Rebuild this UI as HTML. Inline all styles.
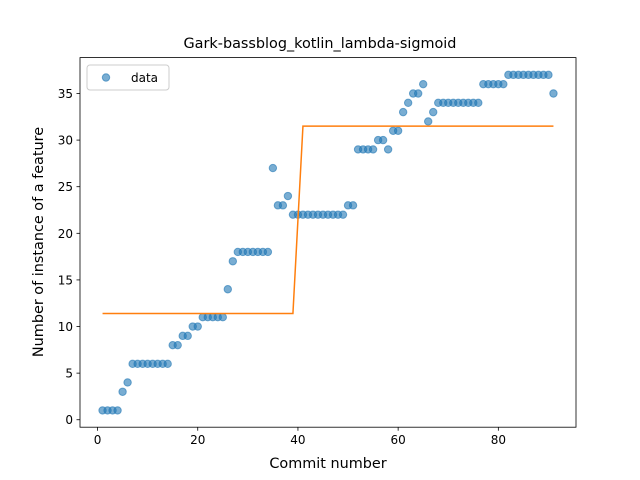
<!DOCTYPE html>
<html><head><meta charset="utf-8"><style>
body{margin:0;background:#fff}
svg{display:block;font-family:"DejaVu Sans","Liberation Sans",sans-serif}
</style></head><body>
<svg id="chart" width="640" height="480" viewBox="0 0 640 480"></svg>
<script>
const commits = Array.from({length:91},(_,i)=>i+1);
const featureCounts = [1,1,1,1,3,4,6,6,6,6,6,6,6,6,8,8,9,9,10,10,11,11,11,11,11,14,17,18,18,18,18,18,18,18,27,23,23,24,22,22,22,22,22,22,22,22,22,22,22,23,23,29,29,29,29,30,30,29,31,31,33,34,35,35,36,32,33,34,34,34,34,34,34,34,34,34,36,36,36,36,36,37,37,37,37,37,37,37,37,37,35];
const sigmoidFit = commits.map(c=> c<=39 ? 11.4 : (c===40 ? 21.45 : 31.5));
const xTicks = [0,20,40,60,80];
const yTicks = [0,5,10,15,20,25,30,35];

const L=80,R=576,T=57.6,B=427.2;
const xMin=-3.5,xMax=95.5,yMin=-0.8,yMax=38.85;
const sx=v=>L+(v-xMin)/(xMax-xMin)*(R-L);
const sy=v=>B-(v-yMin)/(yMax-yMin)*(B-T);
const svg=document.getElementById('chart');
const NS='http://www.w3.org/2000/svg';
function mk(tag,attrs,parent){const e=document.createElementNS(NS,tag);for(const k in attrs)e.setAttribute(k,attrs[k]);(parent||svg).appendChild(e);return e;}

let t=mk('text',{x:320,y:48,'text-anchor':'middle','font-size':14.4});
t.textContent='Gark-bassblog_kotlin_lambda-sigmoid';



const pts=mk('g',{});


commits.forEach((c,i)=>{
  const p=mk('circle',{cx:sx(c),cy:sy(featureCounts[i]),r:3.7,fill:'#1f77b4','fill-opacity':0.6,stroke:'#1f77b4','stroke-opacity':0.6,'stroke-width':1},pts);
  
  
});
const line=mk('polyline',{points:commits.map((c,i)=>sx(c)+','+sy(sigmoidFit[i])).join(' '),fill:'none',stroke:'#ff7f0e','stroke-width':1.5});



const frame=mk('rect',{x:L,y:T,width:R-L,height:B-T,fill:'none',stroke:'#000','stroke-width':0.8});



xTicks.forEach(v=>{
  mk('line',{x1:sx(v),x2:sx(v),y1:B,y2:B+3.5,stroke:'#000','stroke-width':0.8});
  const l=mk('text',{x:sx(v),y:B+17,'text-anchor':'middle','font-size':12});
  l.textContent=v;
  
  
});
yTicks.forEach(v=>{
  mk('line',{x1:L-3.5,x2:L,y1:sy(v),y2:sy(v),stroke:'#000','stroke-width':0.8});
  const l=mk('text',{x:L-7,y:sy(v)+4.5,'text-anchor':'end','font-size':12});
  l.textContent=v;
  
  
});
t=mk('text',{x:328,y:468,'text-anchor':'middle','font-size':14.4});
t.textContent='Commit number';


t=mk('text',{x:0,y:0,'text-anchor':'middle','font-size':14.4,transform:'translate(43,242) rotate(-90)'});
t.textContent='Number of instance of a feature';



const lg=mk('g',{});


mk('rect',{x:87,y:65,width:82,height:25,rx:3,fill:'#fff','fill-opacity':0.8,stroke:'#ccc','stroke-width':1},lg);
mk('circle',{cx:106,cy:77.5,r:3.7,fill:'#1f77b4','fill-opacity':0.6,stroke:'#1f77b4','stroke-opacity':0.6},lg);
t=mk('text',{x:131,y:82,'font-size':12},lg);
t.textContent='data';


</script>
</body></html>
